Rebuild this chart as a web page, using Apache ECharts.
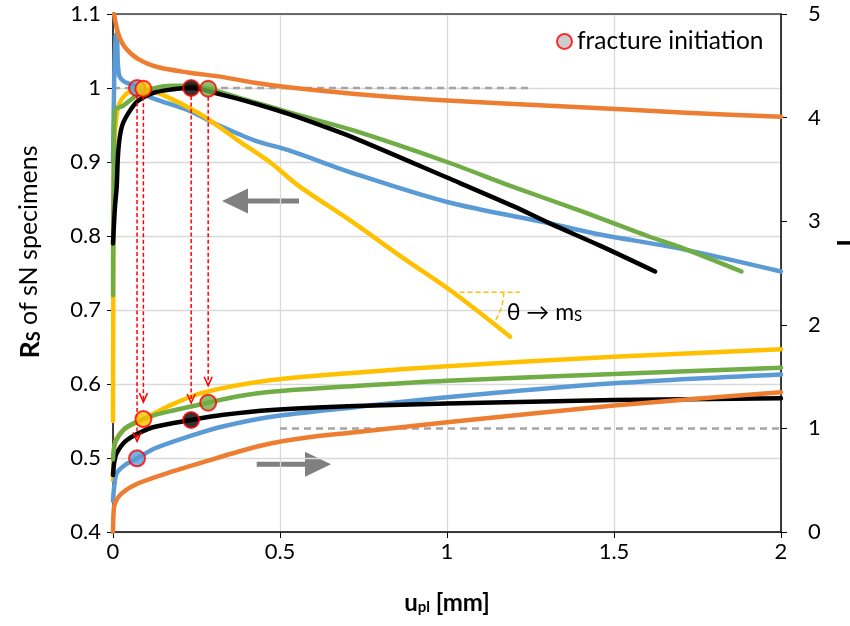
<!DOCTYPE html>
<html>
<head>
<meta charset="utf-8">
<script src="https://cdn.jsdelivr.net/npm/echarts@6/dist/echarts.min.js"></script>
<style>html,body{margin:0;padding:0;background:#fff;}#c{width:850px;height:626px;}</style>
</head>
<body>
<div id="c"></div>
<script>
// ---------- data ----------
const xTickLabels = ['0', '0.5', '1', '1.5', '2'];
const yLeftTickLabels = ['0.4', '0.5', '0.6', '0.7', '0.8', '0.9', '1', '1.1'];
const yRightTickLabels = ['0', '1', '2', '3', '4', '5'];

// R_S curves (left axis)
const blueRS = [[0,0.9],[0.004,1.02],[0.008,1.07],[0.011,1.073],[0.015,1.03],[0.02,1.015],[0.036,1.008],[0.066,1.003],[0.072,1.0],[0.1,0.99],[0.126,0.985],[0.225,0.97],[0.305,0.952],[0.425,0.929],[0.525,0.916],[0.725,0.884],[1.0,0.846],[1.308,0.817],[1.458,0.802],[1.698,0.783],[2.0,0.752]];
const orangeRS = [[0.003,1.1],[0.016,1.073],[0.036,1.055],[0.076,1.039],[0.136,1.028],[0.225,1.021],[0.325,1.015],[0.425,1.007],[0.524,1.001],[0.725,0.992],[1.0,0.983],[1.4,0.974],[1.7,0.967],[2.0,0.961]];
const yellowRS = [[0,0.55],[0.001,0.72],[0.004,0.92],[0.01,0.96],[0.02,0.98],[0.04,0.992],[0.06,0.997],[0.091,0.999],[0.13,0.994],[0.176,0.985],[0.22,0.975],[0.275,0.961],[0.375,0.929],[0.475,0.898],[0.555,0.868],[0.71,0.821],[0.879,0.767],[1.018,0.724],[1.189,0.664]];
const greenRS = [[0,0.72],[0.002,0.9],[0.006,0.97],[0.03,0.976],[0.056,0.985],[0.08,0.993],[0.126,1.0],[0.176,1.003],[0.23,1.003],[0.285,0.999],[0.375,0.987],[0.475,0.974],[0.575,0.961],[0.725,0.942],[1.0,0.9],[1.2,0.866],[1.4,0.834],[1.6,0.8],[1.698,0.785],[1.882,0.752]];
const blackRS = [[0,0.79],[0.006,0.84],[0.011,0.866],[0.016,0.916],[0.026,0.947],[0.046,0.966],[0.076,0.983],[0.126,0.994],[0.176,0.998],[0.234,1.0],[0.325,0.991],[0.425,0.979],[0.525,0.965],[0.625,0.949],[0.725,0.932],[1.0,0.879],[1.2,0.84],[1.308,0.817],[1.458,0.787],[1.623,0.752]];

// I curves (right axis)
const blueI = [[0,0.3],[0.003,0.42],[0.011,0.567],[0.036,0.647],[0.072,0.711],[0.126,0.808],[0.225,0.92],[0.325,1.016],[0.475,1.113],[0.725,1.205],[1.0,1.3],[1.5,1.435],[2.0,1.52]];
const orangeI = [[0,0.0],[0.002,0.2],[0.006,0.28],[0.026,0.373],[0.076,0.47],[0.176,0.582],[0.275,0.679],[0.375,0.775],[0.475,0.856],[0.575,0.91],[0.725,0.962],[1.0,1.06],[1.5,1.22],[2.0,1.35]];
const yellowI = [[0,0.5],[0.003,0.78],[0.01,0.9],[0.03,0.98],[0.06,1.04],[0.091,1.09],[0.176,1.23],[0.275,1.35],[0.475,1.467],[0.725,1.538],[1.0,1.6],[1.5,1.692],[2.0,1.763]];
const greenI = [[0,0.7],[0.005,0.85],[0.016,0.92],[0.036,1.0],[0.076,1.07],[0.126,1.13],[0.176,1.17],[0.285,1.248],[0.375,1.31],[0.475,1.354],[0.725,1.409],[1.0,1.46],[1.5,1.525],[2.0,1.586]];
const blackI = [[0,0.55],[0.004,0.68],[0.011,0.76],[0.036,0.872],[0.076,0.953],[0.126,1.016],[0.234,1.081],[0.325,1.129],[0.475,1.178],[0.725,1.216],[1.0,1.24],[1.5,1.274],[2.0,1.29]];

// fracture initiation points
const fracX = [0.072, 0.091, 0.234, 0.285];
const fracRS = [1.0, 0.999, 1.0, 0.999];
const fracI = [0.711, 1.09, 1.081, 1.248];

// reference lines
const refRS = [[0, 1.0], [1.25, 1.0]];
const refI = [[0.5, 1.0], [2.0, 1.0]];
const thetaAnchor = [1.014, 0.724];

// ---------- styles ----------
const C = { blue:'#5B9BD5', orange:'#ED7D31', yellow:'#FFC000', green:'#70AD47', black:'#000000', grey:'#A5A5A5' };
const fracColors = [C.blue, C.yellow, C.black, C.green];
const FONT = 'Lato, "Noto Sans", "DejaVu Sans", sans-serif';
const XMIN = 0, XMAX = 2, YLMIN = 0.4, YLMAX = 1.1, YRMIN = 0, YRMAX = 5;

function lab(arr, min, step) { return v => arr[Math.round((v - min) / step)] ?? ''; }
function mkLine(name, data, color, yAxisIndex) {
  return { type:'line', name, data, yAxisIndex, symbol:'none', showSymbol:false, silent:true,
    smooth:0.3,
    lineStyle:{ color, width:4.5, cap:'round', join:'round' }, z:2, animation:false };
}
function rToL(r) { return YLMIN + (r - YRMIN) * (YLMAX - YLMIN) / (YRMAX - YRMIN); }

const chart = echarts.init(document.getElementById('c'), null, { renderer:'canvas' });

const option = {
  animation:false,
  backgroundColor:'#ffffff',
  grid:{ left:113, right:69, top:14, bottom:94 },
  legend:{
    data:[{ name:'fracture initiation', icon:'circle', itemStyle:{ color:'#BFBFBF', borderColor:'#FF0000', borderWidth:2 } }],
    left:556, top:29, padding:0, itemWidth:15, itemHeight:15, selectedMode:false,
    textStyle:{ fontSize:24.5, color:'#000', fontFamily:FONT }
  },
  xAxis:[{
    type:'value', min:XMIN, max:XMAX, interval:0.5,
    axisLine:{ show:true, onZero:false, lineStyle:{ color:'#000', width:1.5 } },
    axisTick:{ show:true, length:6, lineStyle:{ color:'#000', width:1 } },
    axisLabel:{ formatter:lab(xTickLabels, XMIN, 0.5), fontSize:22, color:'#000', fontFamily:FONT, margin:9 },
    splitLine:{ show:true, lineStyle:{ color:'#D9D9D9', width:1.3 } }
  },{
    type:'value', position:'top', min:XMIN, max:XMAX,
    axisLine:{ show:true, onZero:false, lineStyle:{ color:'#404040', width:1.5 } },
    axisTick:{ show:false }, axisLabel:{ show:false }, splitLine:{ show:false }
  }],
  yAxis:[{
    type:'value', position:'left', min:YLMIN, max:YLMAX, interval:0.1,
    axisLine:{ show:true, onZero:false, lineStyle:{ color:'#000', width:1.5 } },
    axisTick:{ show:true, length:6, lineStyle:{ color:'#000', width:1 } },
    axisLabel:{ formatter:lab(yLeftTickLabels, YLMIN, 0.1), fontSize:22, color:'#000', fontFamily:FONT, margin:12 },
    splitLine:{ show:true, lineStyle:{ color:'#D9D9D9', width:1.3 } }
  },{
    type:'value', position:'right', min:YRMIN, max:YRMAX, interval:1,
    axisLine:{ show:true, onZero:false, lineStyle:{ color:'#000', width:1.5 } },
    axisTick:{ show:true, length:6, lineStyle:{ color:'#000', width:1 } },
    axisLabel:{ formatter:lab(yRightTickLabels, YRMIN, 1), fontSize:22, color:'#000', fontFamily:FONT, margin:27 },
    splitLine:{ show:false }
  }],
  graphic:[
    { type:'text', x:30, y:252, rotation:Math.PI/2, silent:true,
      style:{ text:'{b|R}{s|S}{n| of sN specimens}', align:'center', verticalAlign:'middle', fill:'#000',
        rich:{ b:{ fontSize:27, fontWeight:'bold', fontFamily:FONT, lineHeight:27, verticalAlign:'top' },
               s:{ fontSize:18, fontWeight:'bold', fontFamily:FONT, lineHeight:18, verticalAlign:'bottom', padding:[18,0,0,0] },
               n:{ fontSize:25, fontFamily:FONT, lineHeight:27, verticalAlign:'top' } } } },
    { type:'text', x:447, y:603, silent:true,
      style:{ text:'{b|u}{s|pl}{b| [mm]}', align:'center', verticalAlign:'middle', fill:'#000',
        rich:{ b:{ fontSize:24, fontWeight:'bold', fontFamily:FONT, lineHeight:24, verticalAlign:'top' },
               s:{ fontSize:15, fontWeight:'bold', fontFamily:FONT, lineHeight:15, verticalAlign:'bottom', padding:[13,0,0,0] } } } },
    { type:'text', x:848, y:243, rotation:Math.PI/2, silent:true,
      style:{ text:'I', align:'center', verticalAlign:'middle', fill:'#000', fontSize:26, fontWeight:'bold', fontFamily:FONT } },
    // grey direction arrows
    { type:'polygon', silent:true, shape:{ points:[[222,201],[248,188.5],[248,198.5],[299,198.5],[299,203.5],[248,203.5],[248,213.5]] }, style:{ fill:'#808080' } },
    { type:'polygon', silent:true, shape:{ points:[[331,464.3],[305,451.8],[305,461.8],[256.7,461.8],[256.7,466.8],[305,466.8],[305,476.8]] }, style:{ fill:'#808080' } }
  ],
  series:[
    { type:'line', name:'refRS', data:refRS, yAxisIndex:0, symbol:'none', silent:true, z:1,
      lineStyle:{ color:C.grey, width:2.5, type:[7,5] } },
    { type:'line', name:'refI', data:refI, yAxisIndex:1, symbol:'none', silent:true, z:1,
      lineStyle:{ color:C.grey, width:2.5, type:[7,5] } },
    mkLine('blueRS', blueRS, C.blue, 0),
    mkLine('orangeRS', orangeRS, C.orange, 0),
    mkLine('yellowRS', yellowRS, C.yellow, 0),
    mkLine('greenRS', greenRS, C.green, 0),
    mkLine('blackRS', blackRS, C.black, 0),
    mkLine('yellowI', yellowI, C.yellow, 1),
    mkLine('blueI', blueI, C.blue, 1),
    mkLine('blackI', blackI, C.black, 1),
    mkLine('greenI', greenI, C.green, 1),
    mkLine('orangeI', orangeI, C.orange, 1),
    { type:'custom', name:'arrows', coordinateSystem:'cartesian2d', yAxisIndex:0, silent:true, z:5, clip:false,
      data: fracX.map((x, i) => [x, fracRS[i], fracI[i]]),
      encode:{ x:0, y:1 },
      renderItem:(params, api) => {
        const x = api.value(0), yU = api.value(1), r = api.value(2);
        const p1 = api.coord([x, yU]);
        const p2 = api.coord([x, rToL(r)]);
        const y0 = p1[1] + 8, tip = p2[1] - 17;
        const st = { stroke:'#FF0000', lineWidth:1.5, lineDash:[4,2.5], fill:null };
        return { type:'group', children:[
          { type:'line', shape:{ x1:p1[0], y1:y0, x2:p1[0], y2:tip }, style:st },
          { type:'polyline', shape:{ points:[[p1[0]-4, tip-9],[p1[0], tip],[p1[0]+4, tip-9]] }, style:{ stroke:'#FF0000', lineWidth:1.5, fill:null } }
        ]};
      } },
    { type:'custom', name:'theta', coordinateSystem:'cartesian2d', yAxisIndex:0, silent:true, z:5, clip:false,
      data:[thetaAnchor], encode:{ x:0, y:1 },
      renderItem:(params, api) => {
        const p = api.coord([api.value(0), api.value(1)]);
        const st = { stroke:C.yellow, lineWidth:1.5, lineDash:[5,3], fill:null };
        return { type:'group', children:[
          { type:'line', shape:{ x1:p[0], y1:p[1], x2:p[0]+68, y2:p[1] }, style:st },
          { type:'arc', shape:{ cx:p[0], cy:p[1], r:52, startAngle:0, endAngle:0.65, clockwise:true }, style:st },
          { type:'text', x:p[0]+55, y:p[1]+20, style:{ text:'{a|θ → m}{s|S}', align:'left', verticalAlign:'middle', fill:'#000',
            rich:{ a:{ fontSize:23, fontFamily:FONT, lineHeight:23, verticalAlign:'top' },
                   s:{ fontSize:15, fontFamily:FONT, lineHeight:15, verticalAlign:'bottom', padding:[12,0,0,0] } } } }
        ]};
      } },
    { type:'scatter', name:'fracture initiation', yAxisIndex:0, symbol:'circle', symbolSize:16, z:10, silent:true,
      itemStyle:{ color:'#BFBFBF', borderColor:'#FF0000', borderWidth:2 },
      data: fracX.map((x, i) => ({ value:[x, fracRS[i]], itemStyle:{ color:fracColors[i] } })) },
    { type:'scatter', name:'fracture initiation', yAxisIndex:1, symbol:'circle', symbolSize:16, z:10, silent:true,
      itemStyle:{ color:'#BFBFBF', borderColor:'#FF0000', borderWidth:2 },
      data: fracX.map((x, i) => ({ value:[x, fracI[i]], itemStyle:{ color:fracColors[i] } })) }
  ]
};
chart.setOption(option);
</script>
</body>
</html>
